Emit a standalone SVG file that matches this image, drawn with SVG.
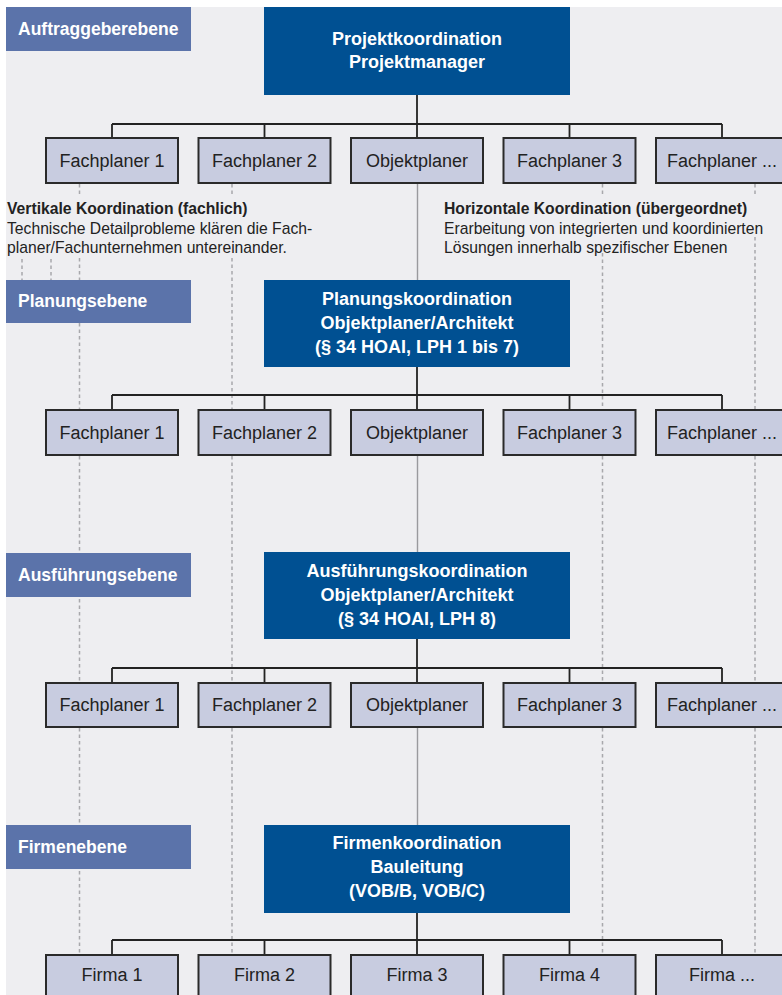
<svg xmlns="http://www.w3.org/2000/svg" width="782" height="995" viewBox="0 0 782 995">
<defs>
<style>
.bg{fill:#eeeef1}
.lvl{fill:#5b73aa}
.lvlt{fill:#ffffff;font-family:"Liberation Sans",Arial,sans-serif;font-weight:bold;font-size:17.5px}
.dark{fill:#005092}
.darkt{fill:#ffffff;font-family:"Liberation Sans",Arial,sans-serif;font-weight:bold;font-size:18px;text-anchor:middle}
.child{fill:#c8cce0;stroke:#2a2a2a;stroke-width:2}
.childt{fill:#222;font-family:"Liberation Sans",Arial,sans-serif;font-size:18px;text-anchor:middle}
.conn{stroke:#222;stroke-width:1.8;fill:none}
.dash{stroke:#a8a8ac;stroke-width:1.5;stroke-dasharray:3.5 3;fill:none}
.solid{stroke:#9a9a9e;stroke-width:1.4;fill:none}
.ann{fill:#222;font-family:"Liberation Sans",Arial,sans-serif;font-size:15.7px}
.annb{font-weight:bold}
</style>
</defs>
<rect x="0" y="0" width="782" height="995" fill="#ffffff"/>
<rect class="bg" x="6" y="7" width="776" height="988"/>

<g id="coordination-lines">
<path class="dash" d="M79.5 184V197M79.5 258V410M79.5 456V683M79.5 728V955"/>
<path class="dash" d="M232 184V197M232 258V410M232 456V683M232 728V955"/>
<path class="dash" d="M602.5 184V197M602.5 253V410M602.5 456V683M602.5 728V955"/>
<path class="dash" d="M755 184V197M755 237V410M755 456V683M755 728V955"/>
<path class="dash" d="M22 259V280M51 259V280"/>
<path class="solid" d="M417.5 184V280M417.5 456V552M417.5 728V825"/>
</g>

<g id="connectors">
<path class="conn" d="M417 95V124M112 124H722M112 124V138M264.5 124V138M417 124V138M569.5 124V138M722 124V138"/>
<path class="conn" d="M417 367V395M112 395H722M112 395V410M264.5 395V410M417 395V410M569.5 395V410M722 395V410"/>
<path class="conn" d="M417 639V668M112 668H722M112 668V683M264.5 668V683M417 668V683M569.5 668V683M722 668V683"/>
<path class="conn" d="M417 913V940M112 940H722M112 940V955M264.5 940V955M417 940V955M569.5 940V955M722 940V955"/>
</g>

<g id="annotation-vertical">
<text class="ann annb" x="7" y="214">Vertikale Koordination (fachlich)</text>
<text class="ann" x="7" y="233.5">Technische Detailprobleme klären die Fach-</text>
<text class="ann" x="7" y="253">planer/Fachunternehmen untereinander.</text>
</g>
<g id="annotation-horizontal">
<text class="ann annb" x="444" y="214">Horizontale Koordination (übergeordnet)</text>
<text class="ann" x="444" y="233.5">Erarbeitung von integrierten und koordinierten</text>
<text class="ann" x="444" y="253">Lösungen innerhalb spezifischer Ebenen</text>
</g>

<g id="label-auftraggeberebene"><rect class="lvl" x="6" y="7" width="185" height="44"/><text class="lvlt" x="18" y="35">Auftraggeberebene</text></g>
<g id="projektkoordination"><rect class="dark" x="264" y="7" width="306" height="88"/><text class="darkt" x="417" y="45">Projektkoordination</text><text class="darkt" x="417" y="68">Projektmanager</text></g>
<g id="l1-fachplaner1"><rect class="child" x="46" y="138" width="132" height="45"/><text class="childt" x="112" y="166.5">Fachplaner 1</text></g>
<g id="l1-fachplaner2"><rect class="child" x="198.5" y="138" width="132" height="45"/><text class="childt" x="264.5" y="166.5">Fachplaner 2</text></g>
<g id="l1-objektplaner"><rect class="child" x="351" y="138" width="132" height="45"/><text class="childt" x="417" y="166.5">Objektplaner</text></g>
<g id="l1-fachplaner3"><rect class="child" x="503.5" y="138" width="132" height="45"/><text class="childt" x="569.5" y="166.5">Fachplaner 3</text></g>
<g id="l1-fachplanerx"><rect class="child" x="656" y="138" width="132" height="45"/><text class="childt" x="722" y="166.5">Fachplaner ...</text></g>

<g id="label-planungsebene"><rect class="lvl" x="6" y="280" width="185" height="43"/><text class="lvlt" x="18" y="307">Planungsebene</text></g>
<g id="planungskoordination"><rect class="dark" x="264" y="280" width="306" height="87"/><text class="darkt" x="417" y="305">Planungskoordination</text><text class="darkt" x="417" y="329">Objektplaner/Architekt</text><text class="darkt" x="417" y="353">(§ 34 HOAI, LPH 1 bis 7)</text></g>
<g id="l2-fachplaner1"><rect class="child" x="46" y="410" width="132" height="45"/><text class="childt" x="112" y="438.5">Fachplaner 1</text></g>
<g id="l2-fachplaner2"><rect class="child" x="198.5" y="410" width="132" height="45"/><text class="childt" x="264.5" y="438.5">Fachplaner 2</text></g>
<g id="l2-objektplaner"><rect class="child" x="351" y="410" width="132" height="45"/><text class="childt" x="417" y="438.5">Objektplaner</text></g>
<g id="l2-fachplaner3"><rect class="child" x="503.5" y="410" width="132" height="45"/><text class="childt" x="569.5" y="438.5">Fachplaner 3</text></g>
<g id="l2-fachplanerx"><rect class="child" x="656" y="410" width="132" height="45"/><text class="childt" x="722" y="438.5">Fachplaner ...</text></g>

<g id="label-ausfuehrungsebene"><rect class="lvl" x="6" y="553" width="185" height="44"/><text class="lvlt" x="18" y="581">Ausführungsebene</text></g>
<g id="ausfuehrungskoordination"><rect class="dark" x="264" y="552" width="306" height="87"/><text class="darkt" x="417" y="577">Ausführungskoordination</text><text class="darkt" x="417" y="601">Objektplaner/Architekt</text><text class="darkt" x="417" y="625">(§ 34 HOAI, LPH 8)</text></g>
<g id="l3-fachplaner1"><rect class="child" x="46" y="683" width="132" height="44"/><text class="childt" x="112" y="711">Fachplaner 1</text></g>
<g id="l3-fachplaner2"><rect class="child" x="198.5" y="683" width="132" height="44"/><text class="childt" x="264.5" y="711">Fachplaner 2</text></g>
<g id="l3-objektplaner"><rect class="child" x="351" y="683" width="132" height="44"/><text class="childt" x="417" y="711">Objektplaner</text></g>
<g id="l3-fachplaner3"><rect class="child" x="503.5" y="683" width="132" height="44"/><text class="childt" x="569.5" y="711">Fachplaner 3</text></g>
<g id="l3-fachplanerx"><rect class="child" x="656" y="683" width="132" height="44"/><text class="childt" x="722" y="711">Fachplaner ...</text></g>

<g id="label-firmenebene"><rect class="lvl" x="6" y="825" width="185" height="44"/><text class="lvlt" x="18" y="853">Firmenebene</text></g>
<g id="firmenkoordination"><rect class="dark" x="264" y="825" width="306" height="88"/><text class="darkt" x="417" y="849">Firmenkoordination</text><text class="darkt" x="417" y="873">Bauleitung</text><text class="darkt" x="417" y="897">(VOB/B, VOB/C)</text></g>
<g id="l4-firma1"><rect class="child" x="46" y="955" width="132" height="50"/><text class="childt" x="112" y="981">Firma 1</text></g>
<g id="l4-firma2"><rect class="child" x="198.5" y="955" width="132" height="50"/><text class="childt" x="264.5" y="981">Firma 2</text></g>
<g id="l4-firma3"><rect class="child" x="351" y="955" width="132" height="50"/><text class="childt" x="417" y="981">Firma 3</text></g>
<g id="l4-firma4"><rect class="child" x="503.5" y="955" width="132" height="50"/><text class="childt" x="569.5" y="981">Firma 4</text></g>
<g id="l4-firmax"><rect class="child" x="656" y="955" width="132" height="50"/><text class="childt" x="722" y="981">Firma ...</text></g>
</svg>
